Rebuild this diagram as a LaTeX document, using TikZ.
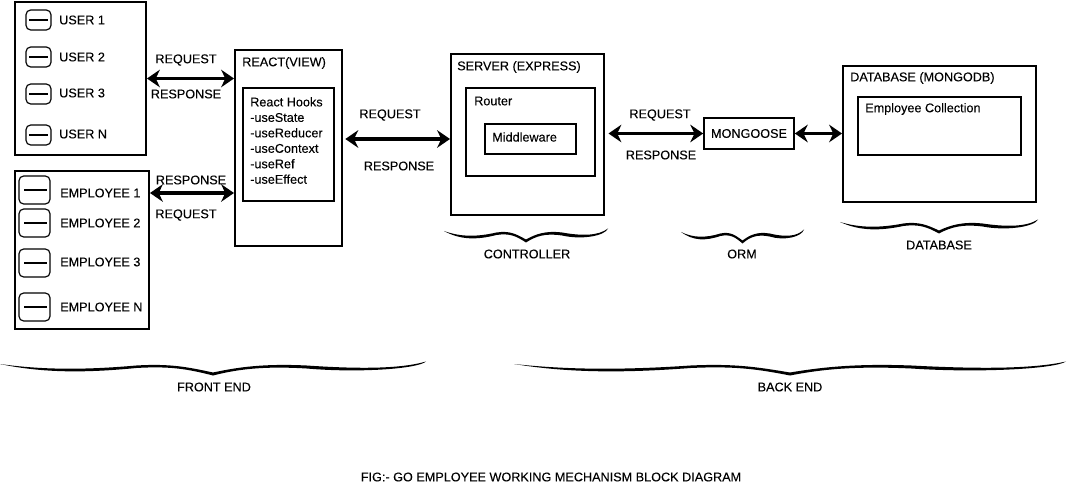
\documentclass[tikz,border=0pt]{standalone}
\usepackage{fontspec}
\setmainfont{Liberation Sans}[FakeBold=0.12]
\usetikzlibrary{arrows.meta,fit}
\tikzset{
    box/.style={draw,line width=1.7pt,inner sep=0pt},
    innerbox/.style={draw,line width=1.4pt,inner sep=0pt},
    iconbox/.style={draw,line width=1pt,rounded corners=4pt,inner sep=0pt},
    iconbar/.style={line width=1.7pt},
    lbl/.style={font=\fontsize{10.8}{13.2}\selectfont,inner sep=0pt},
    conn/.style={<->,>={Stealth[length=11pt,width=15pt]},line width=3pt},
    sketchbrace/.pic={
        \fill (0,0) .. controls (10,6) and (20,6) .. (32,1.5)
        .. controls (40,-0.5) and (44,3) .. (50,8.5)
        .. controls (56,3) and (62,-0.5) .. (72,1.5)
        .. controls (84,5) and (94,5) .. (100,-2.5)
        .. controls (98,5) and (84,9) .. (72,4.5)
        .. controls (62,2) and (56,5) .. (50,11.5)
        .. controls (44,5) and (40,2) .. (32,4)
        .. controls (20,9) and (10,9) .. (0,0) -- cycle;
    }
}
\begin{document}
\begin{tikzpicture}[x=0.03cm,y=-0.03cm]
    \useasboundingbox (0,0) rectangle (1068,488);

    % users
    \node[box,fit={(15,2)(146,155)}] (usersbox) {};
    \foreach \nm/\txt/\iy/\ty in {ua/USER 1/20/20,ub/USER 2/57/57,uc/USER 3/94/93,ud/USER N/135/134}{
        \node[iconbox,fit={(26,\iy-10)(51,\iy+10)}] (\nm) {};
        \draw[iconbar] ([xshift=3pt]\nm.west) -- ([xshift=-3pt]\nm.east);
        \node[lbl,anchor=west] (\nm text) at (59,\ty) {\txt};
    }

    % employees
    \node[box,fit={(15,171)(149,329)}] (empbox) {};
    \foreach \nm/\txt/\iy/\ty in {ea/EMPLOYEE 1/190/193,eb/EMPLOYEE 2/223/223,ec/EMPLOYEE 3/263/262,ed/EMPLOYEE N/307/307}{
        \node[iconbox,fit={(19,\iy-14)(50,\iy+14)}] (\nm) {};
        \draw[iconbar] ([xshift=5pt]\nm.west) -- ([xshift=-3pt]\nm.east);
        \node[lbl,anchor=west] (\nm text) at (60,\ty) {\txt};
    }

    % react
    \node[box,fit={(235,50)(342,246)}] (reactbox) {};
    \node[lbl,anchor=west] (reacttext) at (242,63) {REACT(VIEW)};
    \node[innerbox,fit={(243,88)(334,201)}] (hooksbox) {};
    \node[lbl,anchor=north west,align=left] (hookstext) at (250,97) {React Hooks\\-useState\\-useReducer\\-useContext\\-useRef\\-useEffect};

    % server
    \node[box,fit={(451,54)(604,215)}] (serverbox) {};
    \node[lbl,anchor=west] (servertext) at (457,67) {SERVER (EXPRESS)};
    \node[innerbox,fit={(466,88)(595,176)}] (routerbox) {};
    \node[lbl,anchor=west] (routertext) at (474,101) {Router};
    \node[innerbox,fit={(485,124)(576,154)}] (midbox) {};
    \node[lbl,anchor=west] (midtext) at (492,137) {Middleware};

    % mongoose
    \node[innerbox,fit={(704,118)(794,149)}] (mongoosebox) {};
    \node[lbl] (mongoosetext) at (mongoosebox) {MONGOOSE};

    % database
    \node[box,fit={(843,66)(1036,202)}] (dbbox) {};
    \node[lbl,anchor=west] (dbtext) at (850,78) {DATABASE (MONGODB)};
    \node[innerbox,fit={(858,97)(1021,155)}] (collbox) {};
    \node[lbl,anchor=west] (colltext) at (865,109) {Employee Collection};

    % request and response labels
    \node[lbl] (reqa) at (186,60) {REQUEST};
    \node[lbl] (resa) at (186,94) {RESPONSE};
    \node[lbl] (resb) at (191,180) {RESPONSE};
    \node[lbl] (reqb) at (186,215) {REQUEST};
    \node[lbl] (reqc) at (390,115) {REQUEST};
    \node[lbl] (resc) at (399,166) {RESPONSE};
    \node[lbl] (reqd) at (660,115) {REQUEST};
    \node[lbl] (resd) at (661,155) {RESPONSE};

    % arrows
    \draw[conn] (usersbox.east) -- (reactbox.west |- usersbox.east);
    \draw[conn] (empbox.east |- eatext) -- (reactbox.west |- eatext);
    \draw[conn] ([xshift=2pt]reactbox.east |- midbox) -- (serverbox.west |- midbox);
    \draw[conn] ([xshift=3pt]serverbox.east |- mongoosebox) -- (mongoosebox.west);
    \draw[conn] (mongoosebox.east) -- (dbbox.west |- mongoosebox.east);

    % braces
    \pic[xscale=1.64] (bracectrl) at (444,231) {sketchbrace};
    \pic[xscale=1.23] (braceorm) at (681,232) {sketchbrace};
    \pic[xscale=1.98] (bracedb) at (840,222) {sketchbrace};
    \pic[xscale=4.26] (bracefront) at (0,364) {sketchbrace};
    \pic[xscale=5.52] (braceback) at (514,364) {sketchbrace};

    \node[lbl] (ctrltext) at (527,254) {CONTROLLER};
    \node[lbl] (ormtext) at (742,254) {ORM};
    \node[lbl] (dbnametext) at (939,245) {DATABASE};
    \node[lbl] (fronttext) at (214,387) {FRONT END};
    \node[lbl] (backtext) at (790,387) {BACK END};
    \node[lbl] (figtext) at (551,477) {FIG:- GO EMPLOYEE WORKING MECHANISM BLOCK DIAGRAM};
\end{tikzpicture}
\end{document}
